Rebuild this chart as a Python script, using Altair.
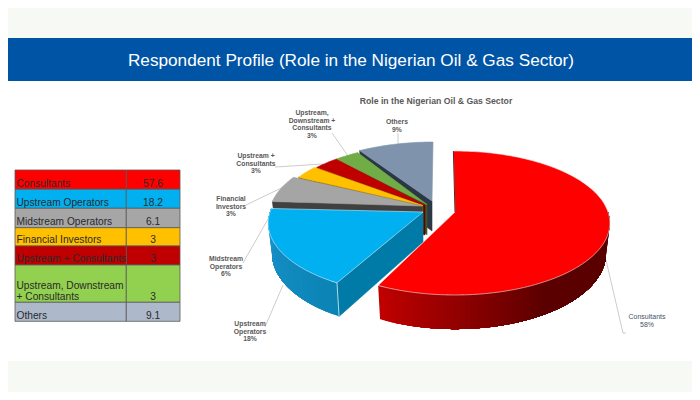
import math
import altair as alt

# ---- values
categories = ["Consultants", "Upstream Operators", "Midstream Operators", "Financial Investors",
              "Upstream + Consultants", "Upstream, Downstream + Consultants", "Others"]
values = [57.6, 18.2, 6.1, 3, 3, 3, 9.1]
value_labels = ["57.6", "18.2", "6.1", "3", "3", "3", "9.1"]
table_lines = [["Consultants"], ["Upstream Operators"], ["Midstream Operators"], ["Financial Investors"],
               ["Upstream + Consultants"], ["Upstream, Downstream", "+ Consultants"], ["Others"]]
pie_label_lines = [["Consultants"], ["Upstream", "Operators"], ["Midstream", "Operators"],
                   ["Financial", "Investors"], ["Upstream +", "Consultants"],
                   ["Upstream,", "Downstream +", "Consultants"], ["Others"]]

# ---- styles and layout
BG = "#f7faf4"
table_colors = ["#ff0000", "#00b0f0", "#a6a6a6", "#ffc000", "#c00000", "#92d050", "#adb9ca"]
top_colors = ["#ff0000", "#00b0f0", "#a5a5a5", "#ffc000", "#c00000", "#70ad47", "#8093ad"]
wall_colors = ["#5a0000", "#007ba7", "#404040", "#7a5c00", "#600000", "#3a5a25", "#2b3745"]
apex = [(455, 212), (423, 212), (424, 205), (429, 205), (431, 205), (431, 205), (433, 203)]
tips = [(455, 212), (423, 212), (422, 206), (423, 205.5), (425, 205), (427, 204.5), (432, 201)]
lean_start = [-0.7, 1.8, 0, 0, 0, 0, 0]
lean_end = [-1.7, 0, 0, 0, 0, 0, 0]
label_centers = [(647, 317), (250, 324), (226, 259), (231, 199), (256, 156), (312, 113), (397, 122)]
leaders = [[(606, 260), (623, 333), (626, 333)], [(265, 327), (283, 285)], [(243, 263), (272, 212)],
           [(246, 205), (300, 179)], [(275, 167), (323, 164)], [(332, 133), (348, 156)],
           [(398, 133), (398, 146)]]
row_edges = [170, 189.3, 208.3, 227.7, 246, 265, 302.3, 321.3]
RX, RY, K, DEPTH = 153, 70.3, 0.153, 30
W, H = 684, 384


def pt(a, theta, lower=False):
    t = math.radians(theta)
    sx, cy = math.sin(t), math.cos(t)
    w = 1 + K * cy
    px, py = RX * sx / w, -RY * cy / w
    if lower:
        return [a[0] + 0.975 * px, a[1] + DEPTH + 1.05 * py]
    return [a[0] + px, a[1] + py]


def poly(ring, fill, stroke=None, sw=0.6):
    ring = list(ring) + [ring[0]]
    return {"type": "Feature", "geometry": {"type": "Polygon", "coordinates": [ring]},
            "properties": {"fill": fill, "stroke": stroke or fill, "sw": sw}}


def mix(c1, c2, f):
    a = [int(c1[i:i + 2], 16) for i in (1, 3, 5)]
    b = [int(c2[i:i + 2], 16) for i in (1, 3, 5)]
    return "#%02x%02x%02x" % tuple(round(x + (y - x) * f) for x, y in zip(a, b))


total = sum(values)
bounds = [0.0]
for v in values:
    bounds.append(bounds[-1] + v / total * 360)


def arc(a, t0, t1, lower=False, step=1.5):
    n = max(2, int(abs(t1 - t0) / step))
    return [pt(a, t0 + (t1 - t0) * i / n, lower) for i in range(n + 1)]


def strip(a, p, q):
    # overlapping quads so that no seam shows between neighbours
    return arc(a, p, q, False, 0.5) + arc(a, q, p, True, 0.5)


features = []
# painted back to front: Others first, Consultants last
for i in range(len(values) - 1, -1, -1):
    a, tip = apex[i], tips[i]
    t0, t1 = bounds[i] + lean_start[i], bounds[i + 1] + lean_end[i]
    # radial face at the start of the slice
    if i > 0:
        features.append(poly([list(tip), pt(a, t0), pt(a, t0, True), [tip[0], tip[1] + DEPTH]], wall_colors[i]))
    # outer wall, painted from one end with strips that shrink towards the other
    if i == 1:
        n = 24
        for j in range(n):
            p = t0 + (t1 - t0) * j / n
            c = mix("#0a84b4", "#1c93ce", j / (n - 1))
            features.append(poly(strip(a, p, t1), c, None, 0))
    if i == 0:
        n = 60
        for j in range(n):
            p = t1 + (90 - t1) * j / n
            f = (p - 150) / (t1 - 150)
            c = "#5a0000" if f <= 0 else mix("#5a0000", "#c00000", f)
            features.append(poly(strip(a, p, 90), c, None, 0))
    # top face
    ring = [list(tip)] + arc(a, t0, t1)
    if i < 2:
        features.append(poly(ring, top_colors[i], "#e6e6e6" if i == 0 else "#cfeaf7", 0.6))
    else:
        features.append(poly(ring, top_colors[i]))

x_enc = alt.Scale(domain=[8, 8 + W], range=[0, W], nice=False, zero=False)
y_enc = alt.Scale(domain=[8, 8 + H], range=[0, H], nice=False, zero=False)
X = lambda f: alt.X(f, type="quantitative", scale=x_enc, axis=None)
Y = lambda f: alt.Y(f, type="quantitative", scale=y_enc, axis=None)


def rects(rows, **kw):
    return alt.Chart(alt.Data(values=rows)).mark_rect(**kw).encode(
        x=X("x0"), x2="x1", y=Y("y0"), y2="y1", fill=alt.Fill("c:N", scale=None))


def texts(rows, **kw):
    return alt.Chart(alt.Data(values=rows)).mark_text(**kw).encode(x=X("x"), y=Y("y"), text="t:N")


panel = rects([{"x0": 8, "x1": 692, "y0": 38, "y1": 361, "c": "#ffffff"}])
banner = rects([{"x0": 8, "x1": 692, "y0": 38, "y1": 81, "c": "#0054a6"}])
head = texts([{"x": 351, "y": 60.5, "t": "Respondent Profile (Role in the Nigerian Oil & Gas Sector)"}],
             font="Liberation Sans", fontSize=17.2, color="#ffffff", align="center", baseline="middle")
sub = texts([{"x": 436, "y": 101, "t": "Role in the Nigerian Oil & Gas Sector"}],
            font="Liberation Sans", fontSize=8.7, fontWeight="bold", color="#595959",
            align="center", baseline="middle")

# table
cell_rows, left_rows, right_rows = [], [], []
for i, lines in enumerate(table_lines):
    top, bottom = row_edges[i], row_edges[i + 1]
    for x0, x1 in ((15, 126.3), (126.3, 180)):
        cell_rows.append({"x0": x0, "x1": x1, "y0": top, "y1": bottom, "c": table_colors[i]})
    for j, line in enumerate(lines):
        left_rows.append({"x": 16.5, "y": bottom - 5.8 - 11 * (len(lines) - 1 - j), "t": line})
    right_rows.append({"x": 153, "y": bottom - 5.8, "t": value_labels[i]})
cells = alt.Chart(alt.Data(values=cell_rows)).mark_rect(stroke="#595959", strokeWidth=0.8).encode(
    x=X("x0"), x2="x1", y=Y("y0"), y2="y1", fill=alt.Fill("c:N", scale=None))
t_left = texts(left_rows, font="Liberation Sans", fontSize=10.2, color="#2a2a2a", align="left", baseline="middle")
t_right = texts(right_rows, font="Liberation Sans", fontSize=10.2, color="#2a2a2a", align="center", baseline="middle")

# pie drawn through a planar projection
pie = alt.Chart(alt.Data(values=features)).mark_geoshape().encode(
    fill=alt.Fill("properties.fill:N", scale=None),
    stroke=alt.Stroke("properties.stroke:N", scale=None),
    strokeWidth=alt.StrokeWidth("properties.sw:Q", scale=None),
).project(type="identity", scale=1, translate=[-8, -8])

# edges
red_top = pt(apex[0], lean_start[0])
blue_a = bounds[1] + lean_start[1]
blue_top, blue_low = pt(apex[1], blue_a), pt(apex[1], blue_a, True)
edge_rows = [
    {"x": red_top[0], "y": red_top[1], "g": "r", "o": 0, "c": "#3a0000"},
    {"x": apex[0][0], "y": apex[0][1], "g": "r", "o": 1, "c": "#3a0000"},
    {"x": blue_top[0], "y": blue_top[1], "g": "b", "o": 0, "c": "#cfeaf7"},
    {"x": blue_low[0], "y": blue_low[1], "g": "b", "o": 1, "c": "#cfeaf7"},
]
edges = alt.Chart(alt.Data(values=edge_rows)).mark_line(strokeWidth=0.8).encode(
    x=X("x"), y=Y("y"), detail="g:N", order="o:Q", color=alt.Color("c:N", scale=None))

# leaders and labels
lead_rows = [{"x": p[0], "y": p[1], "g": i, "o": j} for i, l in enumerate(leaders) for j, p in enumerate(l)]
lead = alt.Chart(alt.Data(values=lead_rows)).mark_line(color="#bfbfbf", strokeWidth=0.8).encode(
    x=X("x"), y=Y("y"), detail="g:N", order="o:Q")

plain_rows, bold_rows = [], []
for i, lines in enumerate(pie_label_lines):
    cx, cy = label_centers[i]
    full = lines + ["%d%%" % round(values[i])]
    rows = plain_rows if i == 0 else bold_rows
    for j, line in enumerate(full):
        rows.append({"x": cx, "y": cy + 7.5 * j, "t": line})
lab_plain = texts(plain_rows, font="Liberation Sans", fontSize=7, color="#44546a", align="center", baseline="middle")
lab_bold = texts(bold_rows, font="Liberation Sans", fontSize=6.8, fontWeight="bold", color="#595959",
                 align="center", baseline="middle")

chart = alt.layer(panel, banner, head, sub, cells, t_left, t_right, lead, pie, edges, lab_plain, lab_bold).properties(
    width=W, height=H, padding=0, background=BG, autosize=alt.AutoSizeParams(type="none")
).configure_view(stroke=None)

chart.save("out.html", embed_options={"renderer": "svg", "actions": False})
